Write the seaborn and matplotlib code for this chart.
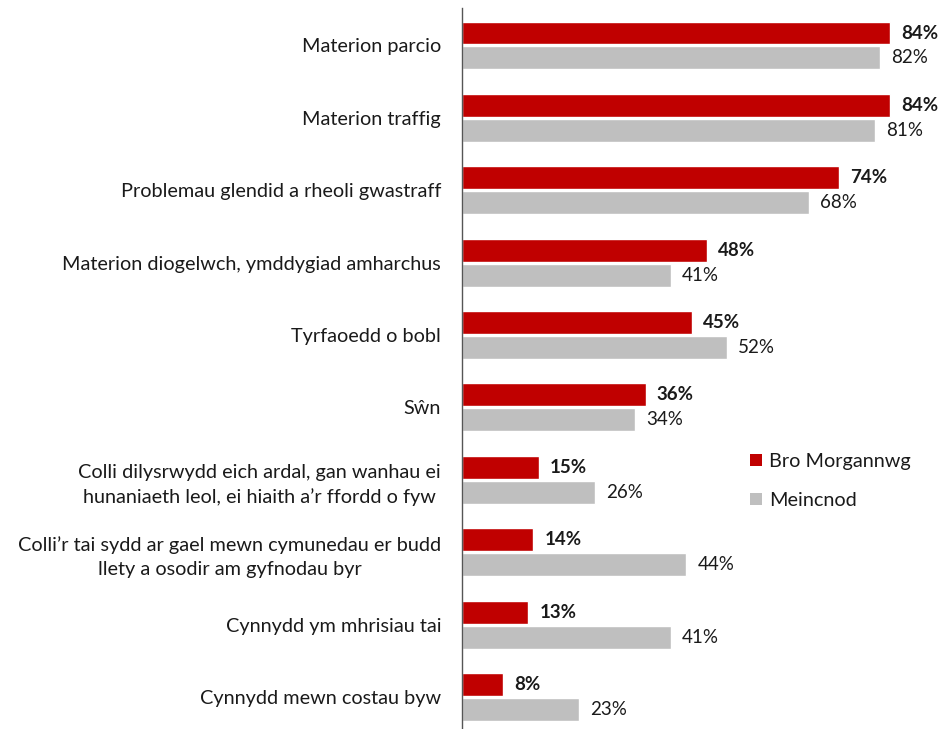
import matplotlib
matplotlib.use("Agg")
import matplotlib.pyplot as plt
import seaborn as sns
import pandas as pd
from matplotlib.patches import Patch

categories = [
    "Materion parcio",
    "Materion traffig",
    "Problemau glendid a rheoli gwastraff",
    "Materion diogelwch, ymddygiad amharchus",
    "Tyrfaoedd o bobl",
    "Sŵn",
    "Colli dilysrwydd eich ardal, gan wanhau ei\nhunaniaeth leol, ei hiaith a’r ffordd o fyw",
    "Colli’r tai sydd ar gael mewn cymunedau er budd\nllety a osodir am gyfnodau byr",
    "Cynnydd ym mhrisiau tai",
    "Cynnydd mewn costau byw",
]
series_names = ["Bro Morgannwg", "Meincnod"]
bro_values = [84, 84, 74, 48, 45, 36, 15, 14, 13, 8]
meincnod_values = [82, 81, 68, 41, 52, 34, 26, 44, 41, 23]
colors = ["#C00000", "#BFBFBF"]

df = pd.DataFrame({
    "category": categories * 2,
    "series": [series_names[0]] * len(categories) + [series_names[1]] * len(categories),
    "value": bro_values + meincnod_values,
})

sns.set_theme(style="white")
plt.rcParams["font.family"] = ["Lato", "DejaVu Sans"]

W, H = 941, 729
fig = plt.figure(figsize=(W / 100, H / 100), dpi=100)
ax = fig.add_axes([462 / W, 0, (W - 462) / W, (729 - 8) / H])

sns.barplot(data=df, y="category", x="value", hue="series", order=categories,
            hue_order=series_names, palette=colors, orient="h", width=0.69,
            gap=0.08, ax=ax, legend=False, saturation=1)

ax.set_xlim(0, (W - 462) / 5.1)
ax.set_ylim(9 + 32 / 72.4, -37.5 / 72.4)
ax.set_xlabel("")
ax.set_ylabel("")
ax.set_xticks([])
for s in ["top", "right", "bottom"]:
    ax.spines[s].set_visible(False)
ax.spines["left"].set_color("#555555")
ax.spines["left"].set_linewidth(1.0)
ax.tick_params(axis="y", length=0, pad=15, labelsize=14.3, labelcolor="#1a1a1a")
for lbl in ax.get_yticklabels():
    lbl.set_horizontalalignment("right")
    lbl.set_multialignment("center")
    lbl.set_linespacing(1.5)

for i, container in enumerate(ax.containers):
    ax.bar_label(container, labels=[f"{v:.0f}%" for v in container.datavalues],
                 padding=8, fontsize=13.5, color="#1a1a1a",
                 fontweight="bold" if i == 0 else "normal")

handles = [Patch(facecolor=c, edgecolor="none") for c in colors]
fig.legend(handles, series_names, loc="center left", bbox_to_anchor=(732 / W, 1 - 481 / H),
           frameon=False, fontsize=14.3, handlelength=0.6, handleheight=0.6,
           handletextpad=0.35, labelspacing=1.1, labelcolor="#1a1a1a")

fig.savefig("out.png", dpi=100)
